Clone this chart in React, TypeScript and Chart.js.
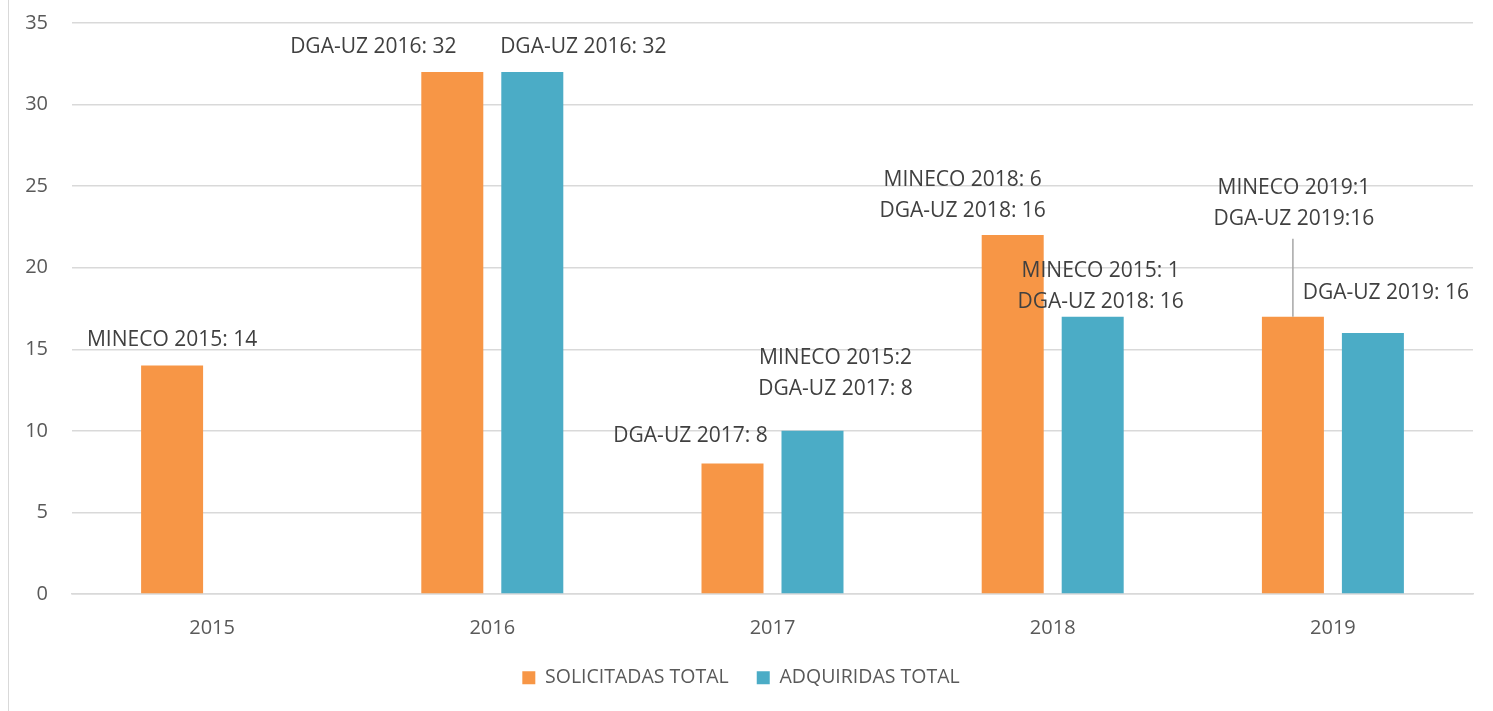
import React, { useEffect, useRef } from 'react';
import { Chart, registerables } from 'chart.js';

Chart.register(...registerables);

const categories = ['2015', '2016', '2017', '2018', '2019'];
const solicitadasTotal: (number | null)[] = [14, 32, 8, 22, 17];
const adquiridasTotal: (number | null)[] = [null, 32, 10, 17, 16];

const solicitadasLabels: string[][] = [
  ['MINECO 2015: 14'],
  ['DGA-UZ 2016: 32'],
  ['DGA-UZ 2017: 8'],
  ['MINECO 2018: 6', 'DGA-UZ 2018: 16'],
  ['MINECO 2019:1', 'DGA-UZ 2019:16'],
];
const adquiridasLabels: string[][] = [
  [],
  ['DGA-UZ 2016: 32'],
  ['MINECO 2015:2', 'DGA-UZ 2017: 8'],
  ['MINECO 2015: 1', 'DGA-UZ 2018: 16'],
  ['DGA-UZ 2019: 16'],
];

// label placement (pixel offsets of first line centre from the bar top centre)
const solicitadasOffsets = [[0, -26], [-79, -25], [-42, -27], [-50, -55], [1, -129]];
const adquiridasOffsets = [[0, 0], [51, -25], [23, -73], [8, -46], [13, -40]];
const solicitadasLeader = [false, false, false, false, true];
const adquiridasLeader = [false, false, false, false, false];

const FONT = "'Open Sans', sans-serif";
const LINE_GAP = 31;

const labelPlugin = {
  id: 'customLabels',
  afterDatasetsDraw(chart: any) {
    const ctx = chart.ctx;
    const sets = [
      { labels: solicitadasLabels, offsets: solicitadasOffsets, leader: solicitadasLeader },
      { labels: adquiridasLabels, offsets: adquiridasOffsets, leader: adquiridasLeader },
    ];
    ctx.save();
    ctx.font = `21px ${FONT}`;
    ctx.fillStyle = '#404040';
    ctx.textAlign = 'center';
    ctx.textBaseline = 'middle';
    sets.forEach((s, di) => {
      const meta = chart.getDatasetMeta(di);
      meta.data.forEach((el: any, i: number) => {
        const lines = s.labels[i];
        if (!lines || !lines.length) return;
        const [dx, dy] = s.offsets[i];
        const x = el.x + dx;
        const y0 = el.y + dy;
        lines.forEach((t, k) => ctx.fillText(t, x, y0 + k * LINE_GAP));
        if (s.leader[i]) {
          const yb = y0 + (lines.length - 1) * LINE_GAP + 20;
          ctx.strokeStyle = '#a6a6a6';
          ctx.lineWidth = 1.5;
          ctx.beginPath();
          ctx.moveTo(el.x, yb);
          ctx.lineTo(el.x, el.y);
          ctx.stroke();
        }
      });
    });
    ctx.restore();
  },
};

export default function App() {
  const ref = useRef<HTMLCanvasElement | null>(null);
  useEffect(() => {
    if (!ref.current) return;
    const chart = new Chart(ref.current, {
      type: 'bar',
      data: {
        labels: categories,
        datasets: [
          {
            label: 'SOLICITADAS TOTAL',
            data: solicitadasTotal,
            backgroundColor: '#F79646',
            categoryPercentage: 0.571,
            barPercentage: 0.775,
          },
          {
            label: 'ADQUIRIDAS TOTAL',
            data: adquiridasTotal,
            backgroundColor: '#4BACC6',
            categoryPercentage: 0.571,
            barPercentage: 0.775,
          },
        ],
      },
      options: {
        responsive: false,
        animation: false,
        layout: { padding: { left: 9, right: 20, top: 23, bottom: 13.5 } },
        plugins: {
          tooltip: { enabled: false },
          legend: {
            position: 'bottom',
            labels: {
              boxWidth: 13,
              boxHeight: 13,
              color: '#595959',
              font: { family: FONT, size: 19.5 },
              padding: 28,
            },
          },
        },
        scales: {
          x: {
            grid: { display: false },
            border: { display: true, color: '#d9d9d9', width: 1.5 },
            ticks: { color: '#595959', font: { family: FONT, size: 20 }, padding: 14 },
            afterFit: (s: any) => { s.height = 46; },
          },
          y: {
            min: 0,
            max: 35,
            ticks: { stepSize: 5, color: '#595959', font: { family: FONT, size: 20 }, padding: 24 },
            grid: { color: '#d9d9d9', lineWidth: 1.5, drawTicks: false },
            border: { display: false },
            afterFit: (s: any) => {
              s.width = 63;
              s.paddingTop = 0;
              s.paddingBottom = 0;
            },
          },
        },
      },
      plugins: [labelPlugin],
    });
    return () => chart.destroy();
  }, []);
  return (
    <div style={{ position: 'absolute', left: 0, top: 0, width: 1493, height: 711, background: '#fff' }}>
      <div style={{ position: 'absolute', left: 8, top: 0, width: 1, height: 711, background: '#d9d9d9' }} />
      <canvas ref={ref} width={1493} height={711} style={{ position: 'absolute', left: 0, top: 0 }} />
    </div>
  );
}
